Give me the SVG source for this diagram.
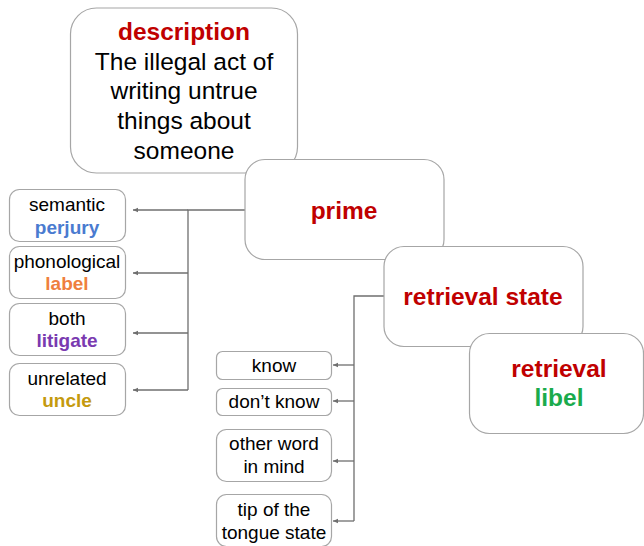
<svg xmlns="http://www.w3.org/2000/svg" width="644" height="546" viewBox="0 0 644 546">
<style>
.box{fill:#fff;stroke:#a6a6a6;stroke-width:1.2}
.t{font-family:"Liberation Sans",Arial,sans-serif;text-anchor:middle;fill:#000}
.big{font-size:24.5px}
.sm{font-size:19px}
.red{fill:#c00000;font-weight:bold}
.c{fill:none;stroke:#6f6f6f;stroke-width:1.3}
</style>
<defs>
<marker id="ah" viewBox="0 0 6 6" refX="5" refY="3" markerWidth="6" markerHeight="6" orient="auto" markerUnits="userSpaceOnUse">
<path d="M0,0.8 L5,3 L0,5.2 z" fill="#6f6f6f"/>
</marker>
</defs>
<rect width="644" height="546" fill="#fff"/>
<g id="connectors">
<path class="c" d="M245,210 H188 V390"/>
<path class="c" d="M188,210 H133" marker-end="url(#ah)"/>
<path class="c" d="M188,273 H133" marker-end="url(#ah)"/>
<path class="c" d="M188,333 H133" marker-end="url(#ah)"/>
<path class="c" d="M188,390 H133" marker-end="url(#ah)"/>
<path class="c" d="M384,296 H354 V521"/>
<path class="c" d="M354,365 H333" marker-end="url(#ah)"/>
<path class="c" d="M354,401 H333" marker-end="url(#ah)"/>
<path class="c" d="M354,461 H333" marker-end="url(#ah)"/>
<path class="c" d="M354,521 H333" marker-end="url(#ah)"/>
</g>
<g id="description">
<rect class="box" x="70.5" y="8" width="227" height="165" rx="26"/>
<text class="t big red" x="184" y="40">description</text>
<text class="t big" x="184" y="70">The illegal act of</text>
<text class="t big" x="184" y="99">writing untrue</text>
<text class="t big" x="184" y="129">things about</text>
<text class="t big" x="184" y="159">someone</text>
</g>
<g id="prime">
<rect class="box" x="245" y="159.5" width="199" height="100" rx="20"/>
<text class="t big red" x="344" y="219">prime</text>
</g>
<g id="retrieval-state">
<rect class="box" x="384" y="246.5" width="199" height="100" rx="20"/>
<text class="t big red" x="483" y="305">retrieval state</text>
</g>
<g id="retrieval">
<rect class="box" x="469.5" y="333.5" width="174" height="100" rx="20"/>
<text class="t big red" x="559" y="377">retrieval</text>
<text class="t big" x="559" y="406" font-weight="bold" style="fill:#1aab4c">libel</text>
</g>
<g id="semantic">
<rect class="box" x="9.5" y="189.5" width="116" height="52" rx="10"/>
<text class="t sm" x="67" y="211">semantic</text>
<text class="t sm" x="67" y="234" font-weight="bold" style="fill:#4a7bd0">perjury</text>
</g>
<g id="phonological">
<rect class="box" x="9.5" y="246.5" width="116" height="52" rx="10"/>
<text class="t sm" x="67" y="268">phonological</text>
<text class="t sm" x="67" y="290" font-weight="bold" style="fill:#ef7f3e">label</text>
</g>
<g id="both">
<rect class="box" x="9.5" y="303.5" width="116" height="52" rx="10"/>
<text class="t sm" x="67" y="325">both</text>
<text class="t sm" x="67" y="347" font-weight="bold" style="fill:#7a3ab0">litigate</text>
</g>
<g id="unrelated">
<rect class="box" x="9.5" y="363.5" width="116" height="52" rx="10"/>
<text class="t sm" x="67" y="385">unrelated</text>
<text class="t sm" x="67" y="407" font-weight="bold" style="fill:#c49a0e">uncle</text>
</g>
<g id="know">
<rect class="box" x="216.5" y="351.5" width="115" height="28" rx="6"/>
<text class="t sm" x="274" y="372">know</text>
</g>
<g id="dont-know">
<rect class="box" x="216.5" y="388.5" width="115" height="27" rx="6"/>
<text class="t sm" x="274" y="408">don’t know</text>
</g>
<g id="other-word">
<rect class="box" x="216.5" y="429.5" width="115" height="52" rx="10"/>
<text class="t sm" x="274" y="450">other word</text>
<text class="t sm" x="274" y="473">in mind</text>
</g>
<g id="tip-of-tongue">
<rect class="box" x="216.5" y="494.5" width="115" height="52" rx="10"/>
<text class="t sm" x="274" y="516">tip of the</text>
<text class="t sm" x="274" y="539">tongue state</text>
</g>
</svg>
